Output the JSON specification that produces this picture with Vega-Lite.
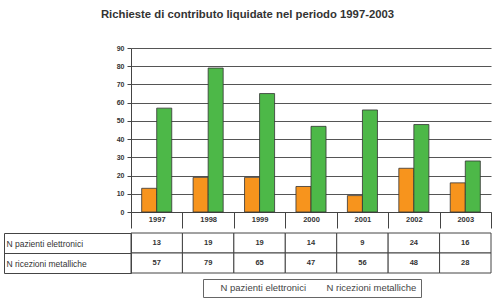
{
  "$schema": "https://vega.github.io/schema/vega-lite/v6.json",
  "padding": {"left": 3, "top": 8, "right": 3, "bottom": 2},
  "title": {"text": "Richieste di contributo liquidate nel periodo 1997-2003", "font": "Liberation Sans", "fontSize": 11.3, "fontWeight": "bold", "color": "#333", "offset": 24, "anchor": "middle"},
  "data": {"values": [
    {"anno": "1997", "serie": "N pazienti elettronici", "valore": 13},
    {"anno": "1998", "serie": "N pazienti elettronici", "valore": 19},
    {"anno": "1999", "serie": "N pazienti elettronici", "valore": 19},
    {"anno": "2000", "serie": "N pazienti elettronici", "valore": 14},
    {"anno": "2001", "serie": "N pazienti elettronici", "valore": 9},
    {"anno": "2002", "serie": "N pazienti elettronici", "valore": 24},
    {"anno": "2003", "serie": "N pazienti elettronici", "valore": 16},
    {"anno": "1997", "serie": "N ricezioni metalliche", "valore": 57},
    {"anno": "1998", "serie": "N ricezioni metalliche", "valore": 79},
    {"anno": "1999", "serie": "N ricezioni metalliche", "valore": 65},
    {"anno": "2000", "serie": "N ricezioni metalliche", "valore": 47},
    {"anno": "2001", "serie": "N ricezioni metalliche", "valore": 56},
    {"anno": "2002", "serie": "N ricezioni metalliche", "valore": 48},
    {"anno": "2003", "serie": "N ricezioni metalliche", "valore": 28}
  ]},
  "spacing": 0,
  "vconcat": [
    {
      "width": 360,
      "height": 164,
      "mark": {"type": "bar", "stroke": "#333", "strokeWidth": 0.8},
      "encoding": {
        "x": {"field": "anno", "type": "nominal", "scale": {"paddingInner": 0, "paddingOuter": 0},
              "axis": {"title": null, "labelAngle": 0, "tickBand": "extent", "tickSize": 16, "tickColor": "#444", "domainColor": "#444", "labelPadding": -12.5, "labelFontSize": 7.5, "labelFontWeight": "bold", "labelColor": "#333"}},
        "xOffset": {"field": "serie", "type": "nominal", "scale": {"paddingInner": 0, "paddingOuter": 0.71}},
        "y": {"field": "valore", "type": "quantitative", "scale": {"domain": [0, 90]},
              "axis": {"title": null, "values": [0, 10, 20, 30, 40, 50, 60, 70, 80, 90], "grid": true, "gridColor": "#555", "gridOpacity": 1, "tickSize": 4, "labelFontSize": 7, "labelFontWeight": "bold", "labelColor": "#333", "domainColor": "#444", "tickColor": "#444", "labelPadding": 3}},
        "color": {"field": "serie", "type": "nominal", "scale": {"range": ["#F7941D", "#4DB848"]},
                  "legend": {"orient": "none", "legendX": 72, "legendY": 231, "direction": "horizontal", "title": null, "strokeColor": "#666", "padding": 4, "labelFontSize": 9.5, "labelColor": "#444", "symbolType": "square", "symbolSize": 0, "symbolStrokeWidth": 0, "columnPadding": 6}}
      }
    },
    {
      "width": 360,
      "height": 40,
      "layer": [
        {
          "mark": {"type": "rect", "fill": "white", "stroke": "#444", "strokeWidth": 1},
          "encoding": {
            "x": {"field": "anno", "type": "nominal", "axis": null, "scale": {"padding": 0}},
            "y": {"field": "serie", "type": "nominal", "scale": {"padding": 0},
                  "axis": {"title": null, "orient": "left", "tickBand": "extent", "tickSize": 127, "tickColor": "#444", "domainColor": "#444", "labelAlign": "left", "labelPadding": -2, "labelFontSize": 8.5, "labelColor": "#333"}}
          }
        },
        {
          "mark": {"type": "text", "fontSize": 7.5, "fontWeight": "bold", "color": "#333"},
          "encoding": {
            "x": {"field": "anno", "type": "nominal", "axis": null},
            "y": {"field": "serie", "type": "nominal",
                  "axis": {"title": null, "orient": "left", "offset": 127, "labels": false, "ticks": false, "domain": true, "domainColor": "#444"}},
            "text": {"field": "valore", "type": "quantitative"}
          }
        }
      ],
      "resolve": {"axis": {"y": "independent"}}
    }
  ],
  "config": {"view": {"stroke": null}, "font": "Liberation Sans"}
}
